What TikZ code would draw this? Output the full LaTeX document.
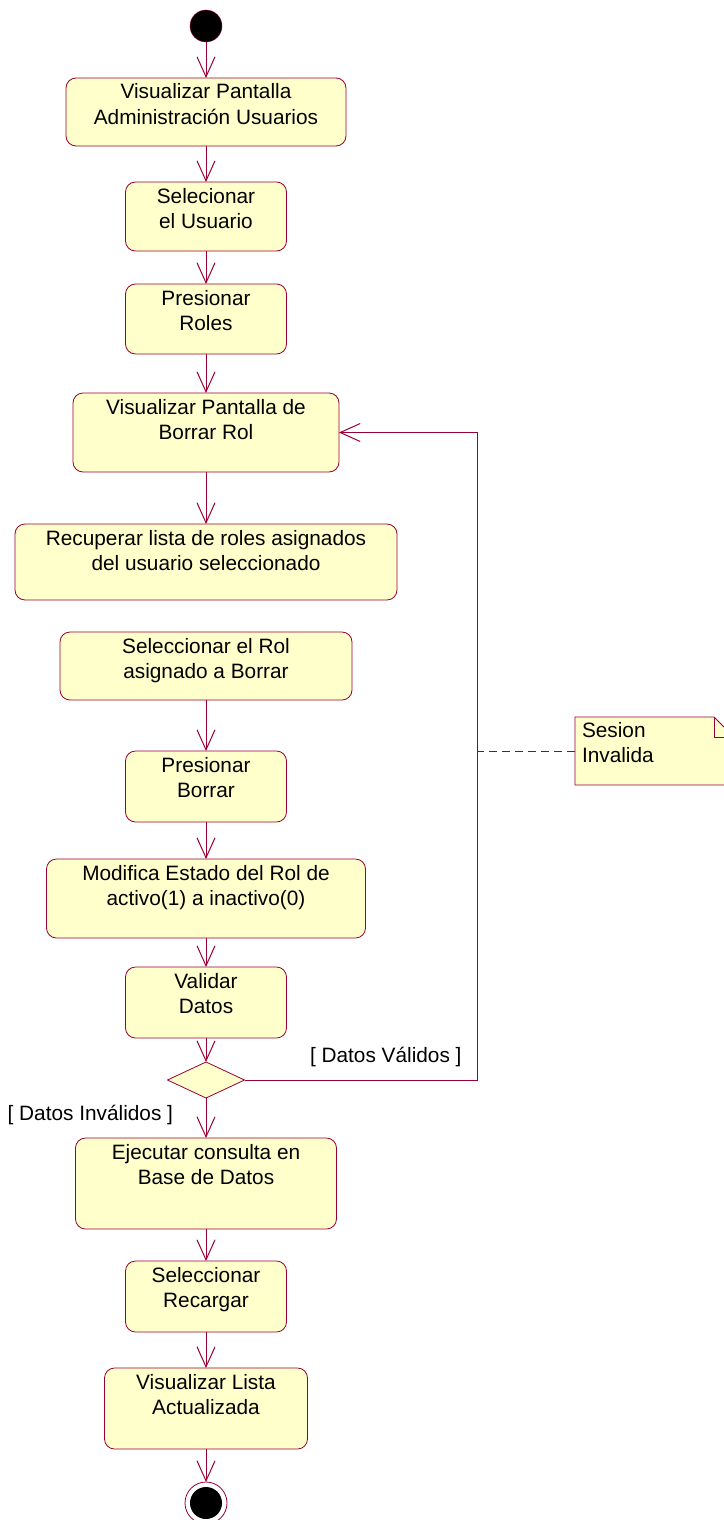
\documentclass[tikz,border=0pt]{standalone}
\usepackage{fontspec}
\setmainfont{Liberation Sans}
\usepackage{tikz}
\usetikzlibrary{arrows.meta,positioning,shapes.geometric,backgrounds}
\definecolor{UmlLine}{HTML}{990033}
\definecolor{UmlFill}{HTML}{FFFFCC}

\begin{document}
\begin{tikzpicture}[x=1pt, y=-1pt, font=\fontsize{20.8pt}{25pt}\selectfont, outer sep=0pt,
   act/.style={draw=UmlLine, fill=UmlFill, rounded corners=10pt, align=center,
               inner xsep=0pt, inner ysep=6pt, text height=40pt, line width=0.8pt},
   flow/.style={draw=UmlLine, line width=1pt, -{Straight Barb[length=20pt, width=18pt]}}]
  \useasboundingbox (0,0) rectangle (723,1520);
  \node[circle, fill=black, draw=UmlLine, minimum size=32pt, inner sep=0pt] (start) at (206,26) {};
  \node[act, minimum width=280pt, text depth=16pt, below=36pt of start] (visA) {Visualizar Pantalla\\Administración Usuarios};
  \node[act, minimum width=161pt, text depth=17pt, below=36pt of visA] (selU) {Selecionar\\el Usuario};
  \node[act, minimum width=161pt, text depth=18pt, below=33pt of selU] (presR) {Presionar\\Roles};
  \node[act, minimum width=266pt, text depth=27pt, below=39pt of presR] (visB) {Visualizar Pantalla de\\Borrar Rol};
  \node[act, minimum width=382pt, text depth=24pt, below=52pt of visB] (recup) {Recuperar lista de roles asignados\\del usuario seleccionado};
  \node[act, minimum width=292pt, text depth=16pt, below=32pt of recup] (selRol) {Seleccionar el Rol\\asignado a Borrar};
  \node[act, minimum width=161pt, text depth=19pt, below=51pt of selRol] (presB) {Presionar\\Borrar};
  \node[act, minimum width=319pt, text depth=27pt, below=37pt of presB] (modif) {Modifica Estado del Rol de\\activo(1) a inactivo(0)};
  \node[act, minimum width=161pt, text depth=19pt, below=29pt of modif] (valid) {Validar\\Datos};
  \node[diamond, draw=UmlLine, fill=UmlFill, line width=0.8pt, minimum width=77pt, minimum height=36pt,
        inner sep=0pt, below=24pt of valid] (fork) {};
  \node[act, minimum width=261pt, text depth=39pt, below=40pt of fork] (ejec) {Ejecutar consulta en\\Base de Datos};
  \node[act, minimum width=161pt, text depth=19pt, below=32pt of ejec] (selRec) {Seleccionar\\Recargar};
  \node[act, minimum width=203pt, text depth=29pt, below=36pt of selRec] (visLista) {Visualizar Lista\\Actualizada};
  \node[circle, draw=UmlLine, fill=white, line width=0.8pt, minimum size=42pt, inner sep=0pt, below=33pt of visLista,
        path picture={\fill[black] (path picture bounding box.center) circle (16pt);}] (end) {};

  % Notiz rechts, Ecke umgeknickt
  \node[anchor=north west, align=left, text width=145pt, inner xsep=7pt, inner ysep=5pt,
        text height=15pt, text depth=43pt] (note) at (575,717) {Sesion\\Invalida};
  \begin{scope}[on background layer]
    \draw[UmlLine, fill=UmlFill, line width=0.8pt] (note.north west) -- ([xshift=-20pt]note.north east)
      -- ([yshift=-20pt]note.north east) -- (note.south east) -- (note.south west) -- cycle;
    \draw[UmlLine, line width=0.8pt] ([xshift=-20pt]note.north east) |- ([yshift=-20pt]note.north east);
  \end{scope}

  \foreach \a/\b in {start/visA, visA/selU, selU/presR, presR/visB, visB/recup, selRol/presB,
                     presB/modif, modif/valid, valid/fork, ejec/selRec, selRec/visLista, visLista/end}
    \draw[flow] (\a) -- (\b);
  \draw[flow] (fork) -- (ejec)
    node[pos=0.42, anchor=east, xshift=-33pt, inner sep=0pt] {[ Datos Inválidos ]};
  \coordinate[right=233pt of fork.east] (ret);
  \draw[flow] (fork.east) -- (ret)
    node[anchor=south east, xshift=-16pt, yshift=13pt, inner sep=0pt] {[ Datos Válidos ]} |- (visB.east);
  \draw[UmlLine, line width=0.8pt, dash pattern=on 8pt off 5pt, yshift=-3pt] (note.west) -- (note.west -| ret);
\end{tikzpicture}
\end{document}
